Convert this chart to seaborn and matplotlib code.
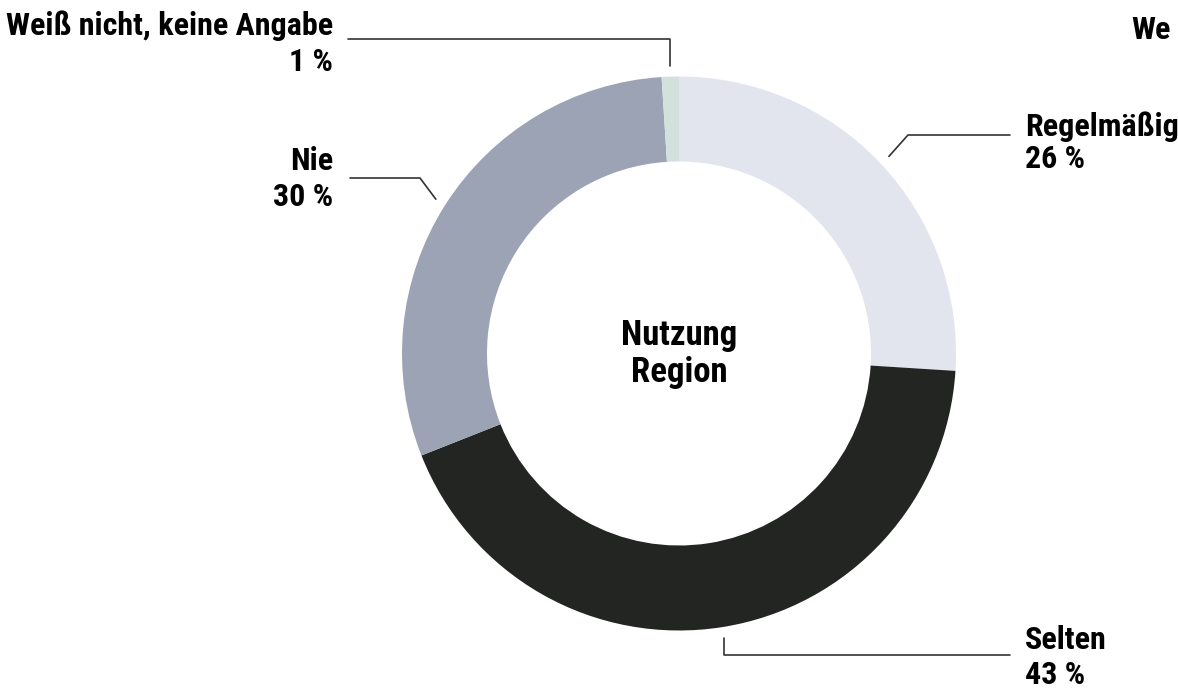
import numpy as np
import matplotlib
matplotlib.use("Agg")
import matplotlib.pyplot as plt
import seaborn as sns

categories = ["Regelmäßig", "Selten", "Nie", "Weiß nicht, keine Angabe"]
values = [26, 43, 30, 1]
value_labels = ["26 %", "43 %", "30 %", "1 %"]
colors = ["#e2e4ee", "#232523", "#9ca3b4", "#d2e1dc"]
center_title = ["Nutzung", "Region"]

sns.set_theme(style="white")
plt.rcParams['font.family'] = ['Roboto Condensed', 'Barlow Condensed', 'DejaVu Sans']

W, H = 1178, 691
fig = plt.figure(figsize=(W / 100, H / 100), dpi=100)
ax = fig.add_axes([0, 0, 1, 1])

def Y(y):
    return H - y

cx, cy = 679, 353.5
R, width = 277, 85

ax.pie(values, colors=colors, startangle=90, counterclock=False, radius=R,
       center=(cx, Y(cy)), wedgeprops=dict(width=width, linewidth=0))
ax.set_xlim(0, W)
ax.set_ylim(0, H)
ax.set_aspect('equal')
ax.axis('off')

cum = np.cumsum([0] + values)
mids = [90 - 360 * (cum[i] + cum[i + 1]) / 2 / 100 for i in range(len(values))]

def anchor(i, r=R + 11):
    a = np.deg2rad(mids[i])
    return cx + r * np.cos(a), cy - r * np.sin(a)

lc = "#333333"
lw = 1.2
fs = 23
tk = dict(fontsize=fs, fontweight='bold', color='black', va='center')
# Regelmäßig
x0, y0 = anchor(0)
ax.plot([x0, 908, 1010], [Y(y0), Y(135), Y(135)], color=lc, lw=lw)
ax.text(1025, Y(127), categories[0], ha='left', **tk)
ax.text(1025, Y(159), value_labels[0], ha='left', **tk)
# Selten
x0, y0 = anchor(1)
ax.plot([x0, x0, 1010], [Y(y0), Y(655), Y(655)], color=lc, lw=lw)
ax.text(1025, Y(640), categories[1], ha='left', **tk)
ax.text(1025, Y(675), value_labels[1], ha='left', **tk)
# Nie
x0, y0 = anchor(2)
ax.plot([x0, 420, 350], [Y(y0), Y(178), Y(178)], color=lc, lw=lw)
ax.text(333, Y(161), categories[2], ha='right', **tk)
ax.text(333, Y(197), value_labels[2], ha='right', **tk)
# Weiß nicht
x0, y0 = anchor(3)
ax.plot([x0, x0, 348], [Y(y0), Y(39), Y(39)], color=lc, lw=lw)
ax.text(333, Y(26), categories[3], ha='right', **tk)
ax.text(333, Y(62), value_labels[3], ha='right', **tk)

# visible fragment of a neighbouring chart's label
ax.text(1131, Y(30), "We", ha='left', **tk)

# center title
ax.text(cx, Y(335), center_title[0], ha='center', va='center', fontsize=25, fontweight='bold', color='black')
ax.text(cx, Y(372), center_title[1], ha='center', va='center', fontsize=25, fontweight='bold', color='black')

fig.savefig("out.png", dpi=100, facecolor='white')
